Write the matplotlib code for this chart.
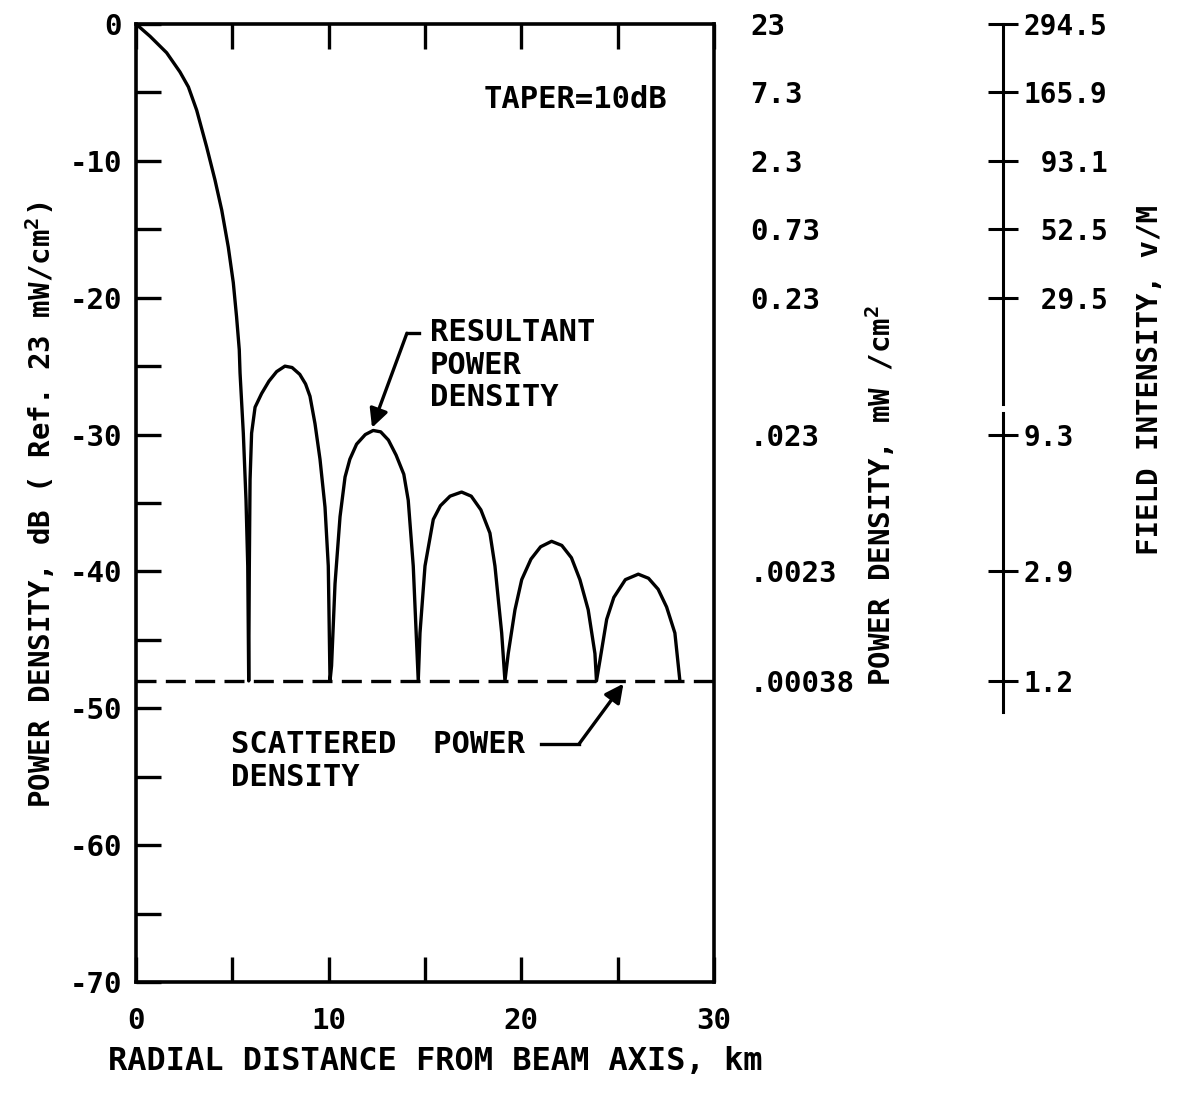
import numpy as np
import matplotlib.pyplot as plt
from matplotlib import transforms

plt.rcParams['font.family'] = 'DejaVu Sans Mono'
plt.rcParams['font.weight'] = 'bold'
plt.rcParams['mathtext.fontset'] = 'custom'
plt.rcParams['mathtext.rm'] = 'DejaVu Sans Mono:bold'
plt.rcParams['mathtext.bf'] = 'DejaVu Sans Mono:bold'

# resultant power density: radial distance (km) vs dB relative to 23 mW/cm^2
dist_km = [0.0, 0.73, 1.59, 2.28, 2.72, 3.15, 3.67, 4.10, 4.45, 4.79, 5.05, 5.22,
           5.36, 5.40, 5.57, 5.71, 5.80, 5.85,
           5.88, 5.92, 6.00, 6.18, 6.52, 6.90, 7.30, 7.73, 8.10, 8.50, 8.80, 9.03,
           9.29, 9.55, 9.81, 9.98, 10.07,
           10.15, 10.33, 10.59, 10.85, 11.10, 11.45, 11.90, 12.31, 12.70, 13.10,
           13.50, 13.90, 14.13, 14.39, 14.65,
           14.74, 15.00, 15.43, 15.80, 16.30, 16.90, 17.40, 17.90, 18.37, 18.63,
           18.98, 19.15,
           19.32, 19.67, 20.02, 20.50, 21.00, 21.57, 22.10, 22.60, 23.04, 23.47,
           23.82, 23.90,
           24.08, 24.43, 24.80, 25.40, 26.07, 26.60, 27.10, 27.54, 27.97, 28.23]
level_db = [0.0, -0.9, -2.1, -3.5, -4.6, -6.3, -9.0, -11.4, -13.6, -16.3, -18.9, -21.4,
            -23.8, -25.5, -29.9, -34.8, -39.6, -48.0,
            -40.0, -33.3, -29.9, -28.0, -27.0, -26.1, -25.4, -25.0, -25.1, -25.6,
            -26.3, -27.2,
            -29.2, -31.8, -35.3, -39.6, -48.0,
            -46.9, -40.9, -36.0, -33.1, -31.8, -30.7, -30.0, -29.7, -29.8, -30.4,
            -31.5, -32.9, -34.8, -39.6, -48.0,
            -44.5, -39.6, -36.2, -35.2, -34.5, -34.2, -34.5, -35.5, -37.2, -39.6,
            -44.5, -48.0,
            -46.0, -42.8, -40.6, -39.1, -38.2, -37.8, -38.1, -39.0, -40.6, -42.8,
            -46.0, -48.0,
            -46.5, -43.5, -41.9, -40.6, -40.2, -40.5, -41.3, -42.6, -44.5, -48.0]

scattered_db = -48.0

# right-hand scales, tied to dB positions
scale_db = [0, -5, -10, -15, -20, -30, -40, -48]
density_mw = ['23', '7.3', '2.3', '0.73', '0.23', '.023', '.0023', '.00038']
field_vm = ['294.5', '165.9', ' 93.1', ' 52.5', ' 29.5', '9.3', '2.9', '1.2']

W, H = 1177, 1093
fig = plt.figure(figsize=(W / 100, H / 100), dpi=100)
ax = fig.add_axes([136 / W, 1 - 982 / H, 578 / W, 958 / H])

ax.plot(dist_km, level_db, color='black', lw=2.4, solid_joinstyle='round')
ax.axhline(scattered_db, color='black', lw=2.4, dashes=(6, 2.8))

ax.set_xlim(0, 30)
ax.set_ylim(-70, 0)
ax.set_xticks(np.arange(0, 31, 5))
ax.set_xticklabels(['0', '', '10', '', '20', '', '30'])
ax.set_yticks(np.arange(-70, 1, 5))
ax.set_yticklabels([str(v) if v % 10 == 0 else '' for v in np.arange(-70, 1, 5)])
ax.tick_params(direction='in', top=True, right=True, length=18, width=2.4,
               labelsize=21)
ax.tick_params(axis='x', pad=18)
ax.tick_params(axis='y', pad=10)
for s in ax.spines.values():
    s.set_linewidth(2.6)

# power density scale on the right spine
ax2 = ax.twinx()
ax2.set_ylim(-70, 0)
ax2.set_yticks(scale_db)
ax2.set_yticklabels(density_mw)
ax2.tick_params(axis='y', length=0, pad=26, labelsize=21)
for s in ax2.spines.values():
    s.set_visible(False)

# separate field intensity scale
fpos = (1003 - 136) / 578
ax3 = ax.twinx()
ax3.set_ylim(-70, 0)
for s in ax3.spines.values():
    s.set_visible(False)
ax3.spines['right'].set_position(('axes', fpos))
ax3.set_yticks(scale_db)
ax3.set_yticklabels(field_vm)
ax3.tick_params(axis='y', direction='inout', length=22, width=2.2, pad=4,
                labelsize=20)
trans = transforms.blended_transform_factory(ax.transAxes, ax.transData)
ax3.plot([fpos, fpos], [0, -27.8], color='black', lw=2.2, transform=trans,
         clip_on=False)
ax3.plot([fpos, fpos], [-28.4, -50.3], color='black', lw=2.2, transform=trans,
         clip_on=False)

# axis titles
fig.text(40 / W, 1 - 505 / H, 'POWER DENSITY, dB ( Ref. 23 mW/cm$^{2}$)',
         rotation=90, ha='center', va='center', fontsize=21)
fig.text(880 / W, 1 - 495 / H, 'POWER DENSITY, mW /cm$^{2}$',
         rotation=90, ha='center', va='center', fontsize=21)
fig.text(1150 / W, 1 - 380 / H, 'FIELD INTENSITY, v/M',
         rotation=90, ha='center', va='center', fontsize=21)
fig.text(435 / W, 1 - 1062 / H, 'RADIAL DISTANCE FROM BEAM AXIS, km',
         ha='center', va='center', fontsize=23)

# annotations
ax.text(27.6, -5.55, 'TAPER=10dB', ha='right', va='center', fontsize=22)
ax.text(15.26, -21.5, 'RESULTANT\nPOWER\nDENSITY', ha='left', va='top',
        fontsize=22, linespacing=1.15)
ax.plot([14.7, 14.06], [-22.6, -22.6], color='black', lw=2.4)
ax.annotate('', xy=(12.25, -29.5), xytext=(14.06, -22.6),
            arrowprops=dict(arrowstyle='-|>', lw=2.4, color='black',
                            mutation_scale=28, shrinkA=0, shrinkB=0))
ax.text(4.93, -51.6, 'SCATTERED  POWER\nDENSITY', ha='left', va='top',
        fontsize=22, linespacing=1.15)
ax.plot([21.0, 23.0], [-52.6, -52.6], color='black', lw=2.4)
ax.annotate('', xy=(25.3, -48.2), xytext=(23.0, -52.6),
            arrowprops=dict(arrowstyle='-|>', lw=2.4, color='black',
                            mutation_scale=28, shrinkA=0, shrinkB=0))

fig.savefig('out.png', dpi=100, facecolor='white')
